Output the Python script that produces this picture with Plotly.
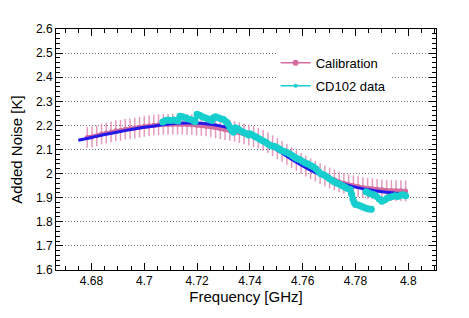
import plotly.graph_objects as go

# ---- Calibration points (pink, with error bars) ----
cal_freq = [4.6784, 4.6802, 4.6820, 4.6838, 4.6856, 4.6874, 4.6892, 4.6910, 4.6928, 4.6946,
            4.6964, 4.6982, 4.7000, 4.7018, 4.7036, 4.7054, 4.7072, 4.7090, 4.7108, 4.7126,
            4.7144, 4.7162, 4.7180, 4.7198, 4.7216, 4.7234, 4.7252, 4.7270, 4.7288, 4.7306,
            4.7324, 4.7342, 4.7360, 4.7378, 4.7396, 4.7414, 4.7432, 4.7450, 4.7468, 4.7486,
            4.7504, 4.7522, 4.7540, 4.7558, 4.7576, 4.7594, 4.7612, 4.7630, 4.7648, 4.7666,
            4.7684, 4.7702, 4.7720, 4.7738, 4.7756, 4.7774, 4.7792, 4.7810, 4.7828, 4.7846,
            4.7864, 4.7882, 4.7900, 4.7918, 4.7936, 4.7954, 4.7972, 4.7990]
cal_noise = [2.150, 2.152, 2.157, 2.164, 2.168, 2.173, 2.178, 2.179, 2.184, 2.186,
             2.189, 2.192, 2.196, 2.199, 2.201, 2.203, 2.204, 2.204, 2.205, 2.205,
             2.205, 2.204, 2.203, 2.201, 2.200, 2.198, 2.194, 2.190, 2.186, 2.182,
             2.179, 2.175, 2.170, 2.165, 2.160, 2.154, 2.147, 2.138, 2.128, 2.116,
             2.104, 2.092, 2.079, 2.066, 2.054, 2.042, 2.031, 2.020, 2.010, 2.000,
             1.991, 1.982, 1.974, 1.966, 1.960, 1.954, 1.950, 1.946, 1.942, 1.939,
             1.937, 1.935, 1.933, 1.931, 1.930, 1.929, 1.929, 1.928]
cal_err = 0.043

# ---- Fit curve (blue) ----
fit_freq = [4.675, 4.680, 4.685, 4.690, 4.695, 4.700, 4.705, 4.710, 4.715, 4.720,
            4.725, 4.730, 4.735, 4.740, 4.745, 4.750, 4.755, 4.760, 4.765, 4.770,
            4.775, 4.780, 4.785, 4.790, 4.795, 4.7995]
fit_noise = [2.138, 2.150, 2.162, 2.173, 2.183, 2.192, 2.200, 2.207, 2.210, 2.210,
             2.205, 2.195, 2.180, 2.160, 2.133, 2.100, 2.065, 2.032, 2.003, 1.978,
             1.958, 1.944, 1.933, 1.925, 1.919, 1.914]

# ---- CD102 data (cyan) ----
cd_freq = [4.7070, 4.7080, 4.7090, 4.7100, 4.7110, 4.7120, 4.7128,
           4.7135, 4.7145, 4.7155, 4.7165, 4.7175, 4.7185, 4.7192,
           4.7200, 4.7210, 4.7220, 4.7230, 4.7240, 4.7250, 4.7256,
           4.7262, 4.7270, 4.7280, 4.7290, 4.7300, 4.7310, 4.7318, 4.7325, 4.7332, 4.7338,
           4.7345, 4.7355, 4.7365, 4.7375, 4.7385, 4.7395,
           4.7400, 4.7410, 4.7420, 4.7430, 4.7440, 4.7450,
           4.7460, 4.7470, 4.7480, 4.7490, 4.7500, 4.7510, 4.7520, 4.7530, 4.7540, 4.7550,
           4.7560, 4.7570, 4.7580, 4.7590, 4.7600, 4.7610, 4.7620, 4.7630, 4.7640, 4.7650,
           4.7660, 4.7670, 4.7680, 4.7690, 4.7700, 4.7710, 4.7720, 4.7730, 4.7740, 4.7750,
           4.7760, 4.7770, 4.7780, 4.7785, 4.7790, 4.7795, 4.7800, 4.7810, 4.7820, 4.7830,
           4.7840, 4.7850, 4.7860, None,
           4.7840, 4.7850, 4.7860, 4.7870, 4.7880, 4.7890, 4.7900, 4.7910, 4.7920, 4.7930,
           4.7940, 4.7950, 4.7960, 4.7970, 4.7980, 4.7990]
cd_noise = [2.214, 2.220, 2.222, 2.220, 2.222, 2.220, 2.218,
            2.238, 2.236, 2.232, 2.228, 2.224, 2.220, 2.215,
            2.246, 2.242, 2.236, 2.232, 2.228, 2.224, 2.220,
            2.232, 2.236, 2.232, 2.228, 2.224, 2.215, 2.205, 2.190, 2.178, 2.172,
            2.190, 2.185, 2.178, 2.172, 2.166, 2.160,
            2.165, 2.160, 2.154, 2.148, 2.142, 2.135,
            2.130, 2.122, 2.116, 2.114, 2.110, 2.103, 2.096, 2.092, 2.088, 2.082,
            2.075, 2.068, 2.062, 2.057, 2.050, 2.044, 2.040, 2.034, 2.028, 2.020,
            2.008, 1.998, 1.995, 1.988, 1.980, 1.972, 1.965, 1.960, 1.956, 1.950,
            1.944, 1.938, 1.934, 1.915, 1.895, 1.880, 1.872, 1.870, 1.866, 1.860,
            1.856, 1.853, 1.852, None,
            1.925, 1.920, 1.915, 1.912, 1.905, 1.895, 1.885, 1.890, 1.898, 1.902,
            1.905, 1.908, 1.905, 1.910, 1.912, 1.908]

y_ticks = [1.6, 1.7, 1.8, 1.9, 2.0, 2.1, 2.2, 2.3, 2.4, 2.5, 2.6]
y_labels = ["1.6", "1.7", "1.8", "1.9", "2", "2.1", "2.2", "2.3", "2.4", "2.5", "2.6"]
x_ticks = [4.68, 4.70, 4.72, 4.74, 4.76, 4.78, 4.80]
x_labels = ["4.68", "4.7", "4.72", "4.74", "4.76", "4.78", "4.8"]

PINK = "rgb(212,108,160)"
PINK_ERR = "rgba(220,120,170,0.75)"
BLUE = "rgb(35,25,235)"
CYAN = "rgb(22,206,206)"

fig = go.Figure()
fig.add_trace(go.Scatter(
    x=cal_freq, y=cal_noise, mode="lines+markers", name="Calibration",
    showlegend=False,
    line=dict(color=PINK, width=4),
    marker=dict(color=PINK, size=5, symbol="circle"),
    error_y=dict(type="constant", value=cal_err, color=PINK_ERR, thickness=1.5, width=0),
))
fig.add_trace(go.Scatter(
    x=fit_freq, y=fit_noise, mode="lines", name="fit", showlegend=False,
    line=dict(color=BLUE, width=3, shape="spline"),
))
fig.add_trace(go.Scatter(
    x=cd_freq, y=cd_noise, mode="lines+markers", name="CD102 data",
    showlegend=False,
    line=dict(color=CYAN, width=5),
    marker=dict(color=CYAN, size=7, symbol="circle"),
    connectgaps=False,
))
# legend-only entries (thin line + small marker, as in the original legend)
fig.add_trace(go.Scatter(
    x=[None], y=[None], mode="lines+markers", name="Calibration", legendgroup="a",
    line=dict(color=PINK, width=1.5), marker=dict(color=PINK, size=6, symbol="circle"),
))
fig.add_trace(go.Scatter(
    x=[None], y=[None], mode="lines+markers", name="CD102 data", legendgroup="b",
    line=dict(color=CYAN, width=1.5), marker=dict(color=CYAN, size=4, symbol="circle"),
))

font_family = "Liberation Sans, Arial, sans-serif"
axis_common = dict(
    showline=True, linecolor="black", linewidth=1, mirror="allticks",
    ticks="inside", ticklen=7, tickcolor="black", tickwidth=1,
    zeroline=False, automargin=False,
    tickfont=dict(family=font_family, size=12, color="black"),
)

fig.update_xaxes(
    range=[4.66655, 4.8105], tickvals=x_ticks, ticktext=x_labels,
    showgrid=False,
    minor=dict(dtick=0.005, tick0=4.68, ticks="inside", ticklen=4, tickcolor="black", showgrid=False),
    title=dict(text="Frequency [GHz]", font=dict(family=font_family, size=15, color="black"), standoff=3),
    **axis_common,
)
fig.update_yaxes(
    range=[1.6, 2.6], tickvals=y_ticks, ticktext=y_labels,
    showgrid=True, gridcolor="rgb(110,110,110)", griddash="1px,2px", gridwidth=1,
    minor=dict(dtick=0.02, tick0=1.6, ticks="inside", ticklen=4, tickcolor="black", showgrid=False),
    title=dict(text="Added Noise [K]", font=dict(family=font_family, size=15, color="black"), standoff=11),
    **axis_common,
)

# the page body adds an 8px offset, so the figure is 8px smaller and margins shifted
fig.update_layout(
    width=461, height=310,
    margin=dict(l=48, r=33, t=21, b=48, autoexpand=False),
    paper_bgcolor="white", plot_bgcolor="white",
    font=dict(family=font_family, size=12, color="black"),
    showlegend=True,
    legend=dict(
        x=0.578, y=0.922, xanchor="left", yanchor="top",
        bgcolor="white", borderwidth=0,
        font=dict(family=font_family, size=13, color="black"),
        traceorder="grouped", tracegroupgap=3, itemwidth=30,
    ),
)

fig.write_html("out.html")
